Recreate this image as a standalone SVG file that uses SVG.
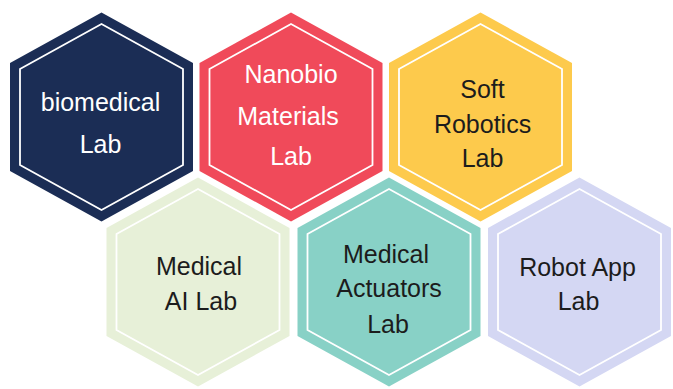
<svg xmlns="http://www.w3.org/2000/svg" width="673" height="389" viewBox="0 0 673 389">
<style>
.outer{stroke:none}
.inner{fill:none;stroke:#ffffff;stroke-width:1.8}
text{font-family:"Liberation Sans",Arial,sans-serif;font-size:25px;text-anchor:middle}
.light{fill:#ffffff}
.dark{fill:#1c1c1c}
</style>
<defs>
<polygon id="hexOuter" points="0,-104.5 91.5,-54 91.5,54 0,104.5 -91.5,54 -91.5,-54"/>
<polygon id="hexInner" points="0,-93 81.5,-48 81.5,48 0,93 -81.5,48 -81.5,-48"/>
</defs>
<rect width="673" height="389" fill="#ffffff"/>
<g id="biomedical-lab" transform="translate(101.5,117)">
<use href="#hexOuter" fill="#1b2d55"/>
<use href="#hexInner" class="inner"/>
<text class="light" x="-1" y="-6">biomedical</text>
<text class="light" x="-1" y="36">Lab</text>
</g>
<g id="nanobio-materials-lab" transform="translate(291,117)">
<use href="#hexOuter" fill="#f04a5a"/>
<use href="#hexInner" class="inner"/>
<text class="light" x="0" y="-34">Nanobio</text>
<text class="light" x="-3" y="8">Materials</text>
<text class="light" x="0" y="48">Lab</text>
</g>
<g id="soft-robotics-lab" transform="translate(480.5,117)">
<use href="#hexOuter" fill="#fdca4c"/>
<use href="#hexInner" class="inner"/>
<text class="dark" x="2" y="-19">Soft</text>
<text class="dark" x="2" y="16">Robotics</text>
<text class="dark" x="2" y="50">Lab</text>
</g>
<g id="medical-ai-lab" transform="translate(198,282)">
<use href="#hexOuter" fill="#e7f0d8"/>
<use href="#hexInner" class="inner"/>
<text class="dark" x="1" y="-7">Medical</text>
<text class="dark" x="3" y="28">AI Lab</text>
</g>
<g id="medical-actuators-lab" transform="translate(389,282)">
<use href="#hexOuter" fill="#88d1c6"/>
<use href="#hexInner" class="inner"/>
<text class="dark" x="-3" y="-19">Medical</text>
<text class="dark" x="0" y="15">Actuators</text>
<text class="dark" x="-1" y="51">Lab</text>
</g>
<g id="robot-app-lab" transform="translate(579.5,282)">
<use href="#hexOuter" fill="#d4d7f3"/>
<use href="#hexInner" class="inner"/>
<text class="dark" x="-2" y="-6">Robot App</text>
<text class="dark" x="-1" y="28">Lab</text>
</g>
<g id="connectors"></g>
</svg>
